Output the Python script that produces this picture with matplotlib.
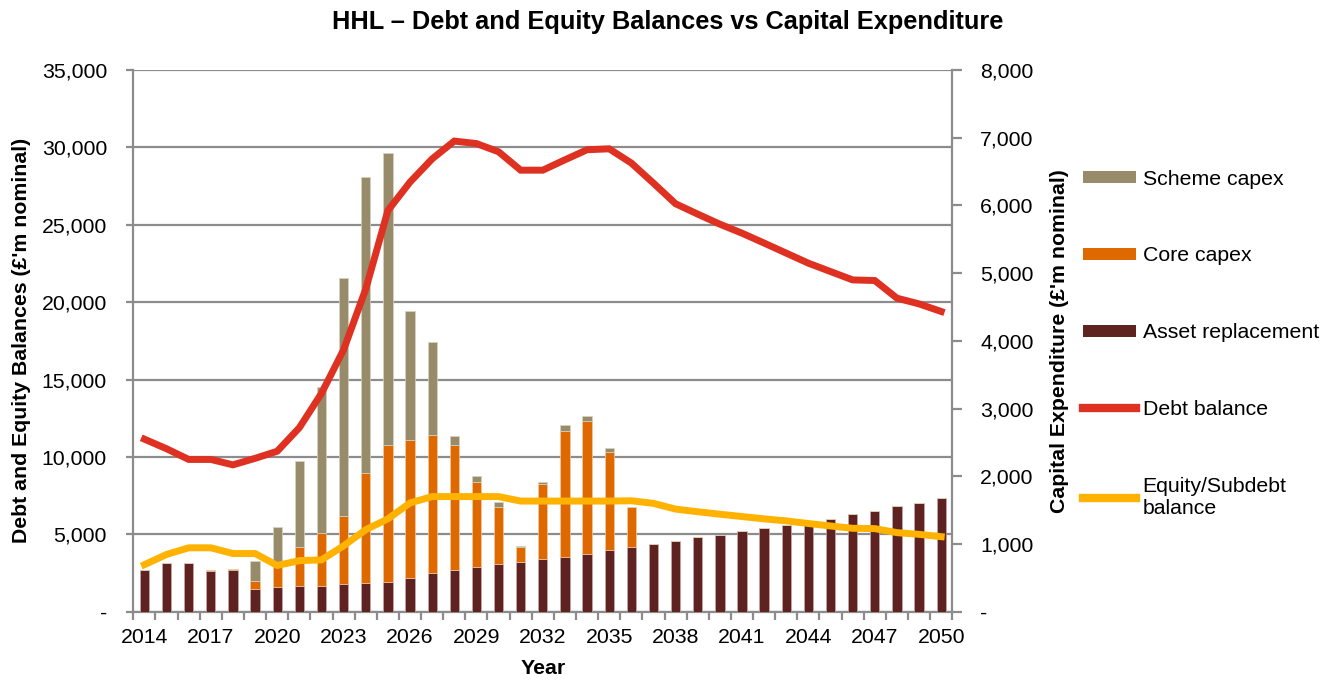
import matplotlib
matplotlib.use('Agg')
import matplotlib.pyplot as plt
from matplotlib.ticker import FuncFormatter, MultipleLocator, FixedLocator
from matplotlib.patches import Patch
from matplotlib.lines import Line2D
import numpy as np

plt.rcParams['font.family'] = ['Liberation Sans', 'DejaVu Sans']

years = list(range(2014, 2051))
asset_replacement = [615, 725, 715, 605, 610, 343, 358, 375, 385, 410, 420, 440, 500, 570,
                     615, 655, 705, 740, 780, 812, 856, 905, 960, 1000, 1045, 1100, 1140,
                     1190, 1235, 1275, 1300, 1375, 1440, 1485, 1555, 1610, 1675]
core_capex = [0, 0, 10, 8, 20, 105, 327, 585, 775, 1000, 1635, 2025, 2035, 2040, 1845, 1255,
              840, 215, 1105, 1864, 1963, 1457, 590, 0, 0, 0, 0, 0, 0, 0, 0, 0, 0, 0, 0, 0, 0]
scheme_capex = [0, 0, 0, 0, 0, 300, 572, 1270, 2160, 3520, 4365, 4310, 1900, 1375, 140, 90,
                70, 10, 25, 79, 74, 49, 0, 0, 0, 0, 0, 0, 0, 0, 0, 0, 0, 0, 0, 0, 0]
debt_balance = [11150, 10530, 9840, 9840, 9490, 9910, 10370, 11890, 14110, 16930, 20850, 25920,
                27760, 29260, 30410, 30250, 29720, 28530, 28530, 29200, 29850, 29910, 28990,
                27690, 26360, 25690, 25040, 24460, 23820, 23170, 22520, 21980, 21440, 21400,
                20260, 19890, 19400]
equity_balance = [3040, 3700, 4130, 4130, 3760, 3760, 2990, 3300, 3350, 4260, 5300, 6000, 7030,
                  7440, 7440, 7440, 7440, 7150, 7150, 7150, 7150, 7150, 7170, 7000, 6630, 6460,
                  6300, 6150, 6000, 5870, 5700, 5540, 5390, 5370, 5110, 5000, 4850]
tick_years = list(range(2014, 2051, 3))

C_SCHEME = '#978B69'
C_CORE = '#DD6900'
C_ASSET = '#5E2221'
C_DEBT = '#DF3122'
C_EQUITY = '#FFB300'
GRAY = '#8C8C8C'
FS = 15.3

fig = plt.figure(figsize=(13.35, 6.8), dpi=100)
ax = fig.add_axes([0.0999, 0.1004, 0.6134, 0.7966])
ax2 = ax.twinx()
ax3 = ax.twinx()

x = np.arange(len(years))
asset = np.array(asset_replacement)
core = np.array(core_capex)
scheme = np.array(scheme_capex)

# grid / left axis
ax.set_ylim(0, 35000)
ax.set_xlim(-0.5, len(years) - 0.5)
ax.yaxis.set_major_locator(MultipleLocator(5000))
fmt = FuncFormatter(lambda v, p: '-' if abs(v) < 1e-9 else f'{v:,.0f}')
ax.yaxis.set_major_formatter(fmt)
ax.grid(axis='y', color=GRAY, linewidth=1.6)
ax.set_axisbelow(True)

# bars on right axis
bw = 0.42
ax2.bar(x, asset, bw, color=C_ASSET, edgecolor='#C9A9A6', linewidth=0.5)
ax2.bar(x, core, bw, bottom=asset, color=C_CORE, edgecolor='#F3C9A0', linewidth=0.5)
ax2.bar(x, scheme, bw, bottom=asset + core, color=C_SCHEME, edgecolor='#D9D3C0', linewidth=0.5)
ax2.set_ylim(0, 8000)
ax2.yaxis.set_major_locator(MultipleLocator(1000))
ax2.yaxis.set_major_formatter(fmt)

# lines on left scale
ax3.plot(x, debt_balance, color=C_DEBT, linewidth=5, solid_joinstyle='miter')
ax3.plot(x, equity_balance, color=C_EQUITY, linewidth=5, solid_joinstyle='miter')
ax3.set_ylim(0, 35000)
ax3.set_xlim(-0.5, len(years) - 0.5)
ax3.axis('off')

for a in (ax, ax2):
    for s in a.spines.values():
        s.set_color(GRAY)
        s.set_linewidth(1.6)
    a.spines['top'].set_visible(False)
    a.tick_params(colors=GRAY, labelcolor='black', labelsize=FS, width=1.6)

ax.spines['right'].set_visible(False)
ax2.spines['left'].set_visible(False)
ax2.spines['bottom'].set_visible(False)

ax.tick_params(axis='y', length=5, pad=14)
ax2.tick_params(axis='y', length=7, pad=13)

# x ticks
ax.set_xticks([years.index(t) for t in tick_years])
ax.set_xticklabels([str(t) for t in tick_years])
ax.xaxis.set_minor_locator(FixedLocator(np.arange(-0.5, len(years), 1.0)))
ax.tick_params(axis='x', which='major', length=0, pad=12)
ax.tick_params(axis='x', which='minor', length=6, width=1.6, colors=GRAY)

ax.set_xlabel('Year', fontsize=FS, fontweight='bold', labelpad=8)
ax.set_ylabel("Debt and Equity Balances (£'m nominal)", fontsize=FS, fontweight='bold', labelpad=8)
ax2.set_ylabel("Capital Expenditure (£'m nominal)", fontsize=FS, fontweight='bold', labelpad=12)

fig.suptitle('HHL – Debt and Equity Balances vs Capital Expenditure', fontsize=18.3,
             fontweight='bold', y=0.967, va='center')

handles = [
    Patch(facecolor=C_SCHEME, edgecolor='none'),
    Patch(facecolor=C_CORE, edgecolor='none'),
    Patch(facecolor=C_ASSET, edgecolor='none'),
    Line2D([0], [0], color=C_DEBT, linewidth=6),
    Line2D([0], [0], color=C_EQUITY, linewidth=6),
]
labels = ['Scheme capex', 'Core capex', 'Asset replacement', 'Debt balance',
          'Equity/Subdebt\nbalance']
fig.legend(handles, labels, loc='upper left', bbox_to_anchor=(0.805, 0.763),
           frameon=False, fontsize=FS, handlelength=2.5, handleheight=0.5,
           labelspacing=2.72, handletextpad=0.3, borderaxespad=0)

fig.savefig('out.png', dpi=100)
